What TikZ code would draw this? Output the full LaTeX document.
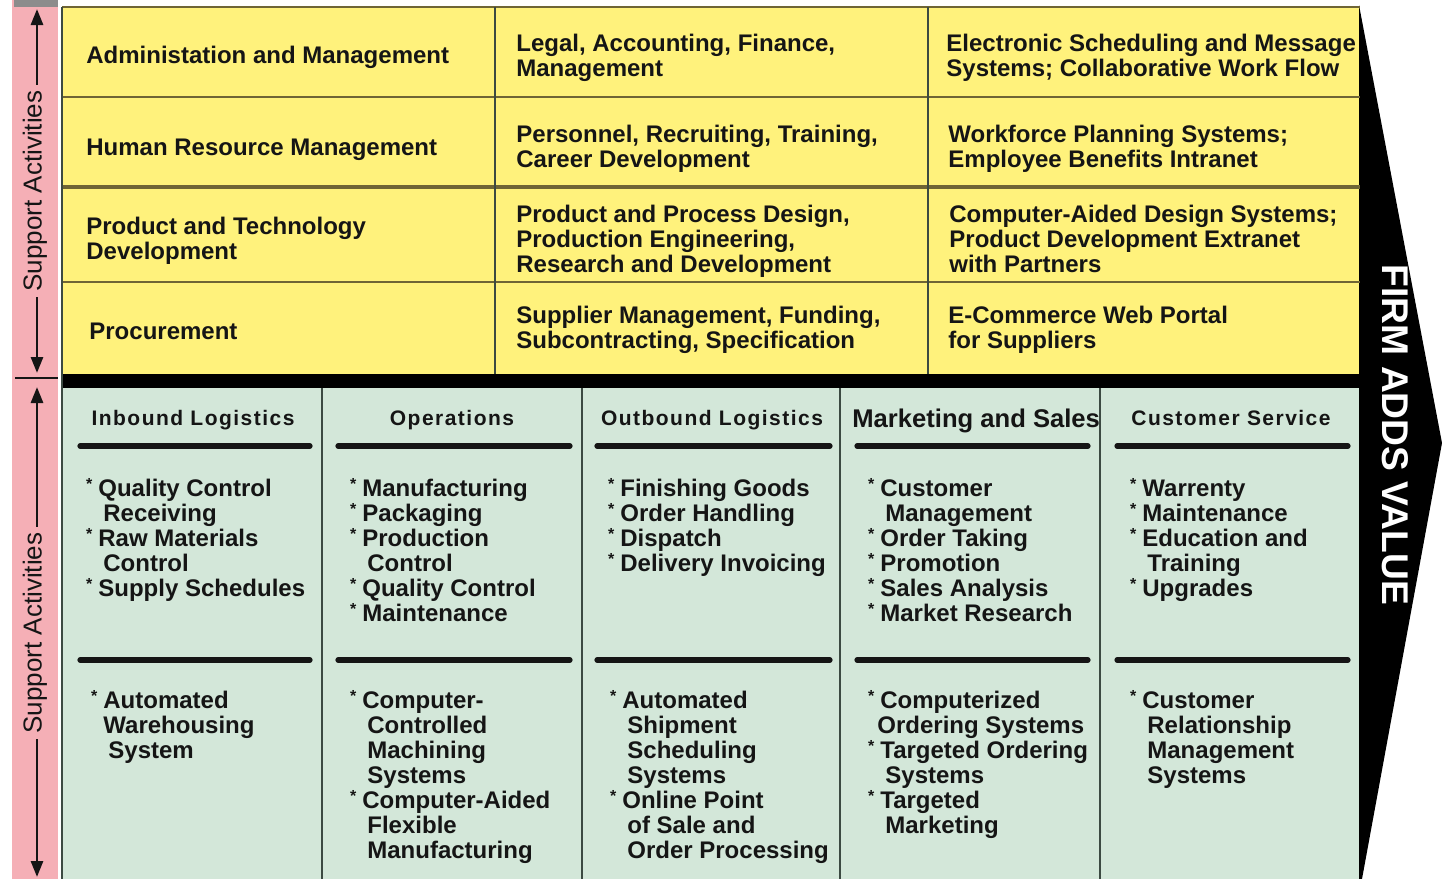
\documentclass[tikz,border=0pt]{standalone}
\usepackage{fontspec}
\setmainfont{Liberation Sans}
\usetikzlibrary{arrows.meta}
\definecolor{yel}{HTML}{FFF27C}
\definecolor{grn}{HTML}{D3E7D9}
\definecolor{pnk}{HTML}{F5AFB6}
\definecolor{olive}{HTML}{6F6535}
\definecolor{colline}{HTML}{3C4A42}
\definecolor{ink}{HTML}{151515}
\definecolor{topgray}{HTML}{8C8C8C}
\newcommand{\bul}{\llap{\raisebox{0.3em}{\fontsize{8}{8}\selectfont *}\hspace{3pt}}}
\newcommand{\ind}{\hspace*{2.5pt}}
\begin{document}
\begin{tikzpicture}[x=0.5pt,y=-0.5pt,
  txt/.style={inner sep=0pt, anchor=north west, align=left, text=ink,
    font=\bfseries\fontsize{12}{12.5}\selectfont, execute at begin node=\strut},
  hdr/.style={inner sep=0pt, anchor=base, text=ink,
    font=\bfseries\fontsize{10.5}{12}\selectfont\addfontfeature{LetterSpace=7}},
  rule/.style={line width=2.6pt, line cap=round, draw=ink},
  rowline/.style={line width=1pt, draw=olive},
  colsep/.style={line width=1pt, draw=colline},
  support/.style={rotate=90, fill=pnk, inner xsep=3pt, inner ysep=1pt, text=ink,
    font=\fontsize{13}{13}\selectfont},
  sarrow/.style={line width=1.4pt, draw=ink, {Triangle[length=8pt,width=6pt]}-{Triangle[length=8pt,width=6pt]}}
]
\useasboundingbox (0,0) rectangle (1442,879);
% left strip
\fill[pnk] (12,0) rectangle (58,879);
\fill[topgray] (14,0) rectangle (58,7);
% main areas
\fill[yel] (62,7) rectangle (1360,374);
\fill[grn] (62,388) rectangle (1360,879);
\fill[black] (62,374) rectangle (1362,388);
% right arrow
\fill[black] (1359,5) -- (1442,443) -- (1362,879) -- (1359,879) -- cycle;
% top grid
\draw[rowline] (62,7) -- (1360,7);
\draw[rowline] (62,97) -- (1360,97);
\draw[rowline, line width=2pt] (62,187) -- (1360,187);
\draw[rowline] (62,282) -- (1360,282);
\draw[colsep] (62,7) -- (62,879);
\draw[colsep] (495,7) -- (495,374);
\draw[colsep] (928,7) -- (928,374);
% bottom columns
\draw[colsep] (322,388) -- (322,879);
\draw[colsep] (582,388) -- (582,879);
\draw[colsep] (840,388) -- (840,879);
\draw[colsep] (1100,388) -- (1100,879);
% heading rules
\foreach \a/\b in {80/310,338/570,597/830,857/1088,1117/1348}{
  \draw[rule] (\a,446) -- (\b,446);
  \draw[rule] (\a,660) -- (\b,660);
}
% support activity arrows
\coordinate (s1t) at (37,9);
\coordinate (s1b) at (37,373);
\coordinate (s2t) at (37,387);
\coordinate (s2b) at (37,877);
\draw[sarrow] (s1t) -- (s1b);
\draw[sarrow] (s2t) -- (s2b);
\draw[ink, line width=0.6pt] (15,378) -- (58,378);
\node[support] (sa1) at (35,191) {Support Activities};
\node[support] (sa2) at (35,633) {Support Activities};
% firm adds value
\node[rotate=-90, text=white, inner sep=0pt, font=\bfseries\fontsize{18.6}{18.6}\selectfont] (fav) at (1395,435) {FIRM ADDS VALUE};
% top cells
\node[txt] (a1) at (86,46) {Administation and Management};
\node[txt] (a2) at (516,34) {Legal, Accounting, Finance,\\Management};
\node[txt] (a3) at (946,34) {Electronic Scheduling and Message\\Systems; Collaborative Work Flow};
\node[txt] (h1) at (86,138) {Human Resource Management};
\node[txt] (h2) at (516,125) {Personnel, Recruiting, Training,\\Career Development};
\node[txt] (h3) at (948,125) {Workforce Planning Systems;\\Employee Benefits Intranet};
\node[txt] (p1) at (86,217) {Product and Technology\\Development};
\node[txt] (p2) at (516,205) {Product and Process Design,\\Production Engineering,\\Research and Development};
\node[txt] (p3) at (949,205) {Computer-Aided Design Systems;\\Product Development Extranet\\with Partners};
\node[txt] (r1) at (89,322) {Procurement};
\node[txt] (r2) at (516,306) {Supplier Management, Funding,\\Subcontracting, Specification};
\node[txt] (r3) at (948,306) {E-Commerce Web Portal\\for Suppliers};
% headers
\node[hdr] (c1) at (193,425.5) {Inbound Logistics};
\node[hdr] (c2) at (452,425.5) {Operations};
\node[hdr] (c3) at (712,425.5) {Outbound Logistics};
\node[inner sep=0pt, anchor=base west, text=ink, font=\bfseries\fontsize{12.8}{13}\selectfont] (c4) at (852,427) {Marketing and Sales};
\node[hdr] (c5) at (1231,425.5) {Customer Service};
% activity lists
\node[txt] (l1) at (98,478) {\bul Quality Control\\\ind Receiving\\\bul Raw Materials\\\ind Control\\\bul Supply Schedules};
\node[txt] (l2) at (362,478) {\bul Manufacturing\\\bul Packaging\\\bul Production\\\ind Control\\\bul Quality Control\\\bul Maintenance};
\node[txt] (l3) at (620,478) {\bul Finishing Goods\\\bul Order Handling\\\bul Dispatch\\\bul Delivery Invoicing};
\node[txt] (l4) at (880,478) {\bul Customer\\\ind Management\\\bul Order Taking\\\bul Promotion\\\bul Sales Analysis\\\bul Market Research};
\node[txt] (l5) at (1142,478) {\bul Warrenty\\\bul Maintenance\\\bul Education and\\\ind Training\\\bul Upgrades};
% IT lists
\node[txt] (m1) at (103,690) {\bul Automated\\Warehousing\\\ind System};
\node[txt] (m2) at (362,690) {\bul Computer-\\\ind Controlled\\\ind Machining\\\ind Systems\\\bul Computer-Aided\\\ind Flexible\\\ind Manufacturing};
\node[txt] (m3) at (622,690) {\bul Automated\\\ind Shipment\\\ind Scheduling\\\ind Systems\\\bul Online Point\\\ind of Sale and\\\ind Order Processing};
\node[txt] (m4) at (880,690) {\bul Computerized\\\hspace*{-1.5pt}Ordering Systems\\\bul Targeted Ordering\\\ind Systems\\\bul Targeted\\\ind Marketing};
\node[txt] (m5) at (1142,690) {\bul Customer\\\ind Relationship\\\ind Management\\\ind Systems};
\end{tikzpicture}
\end{document}
